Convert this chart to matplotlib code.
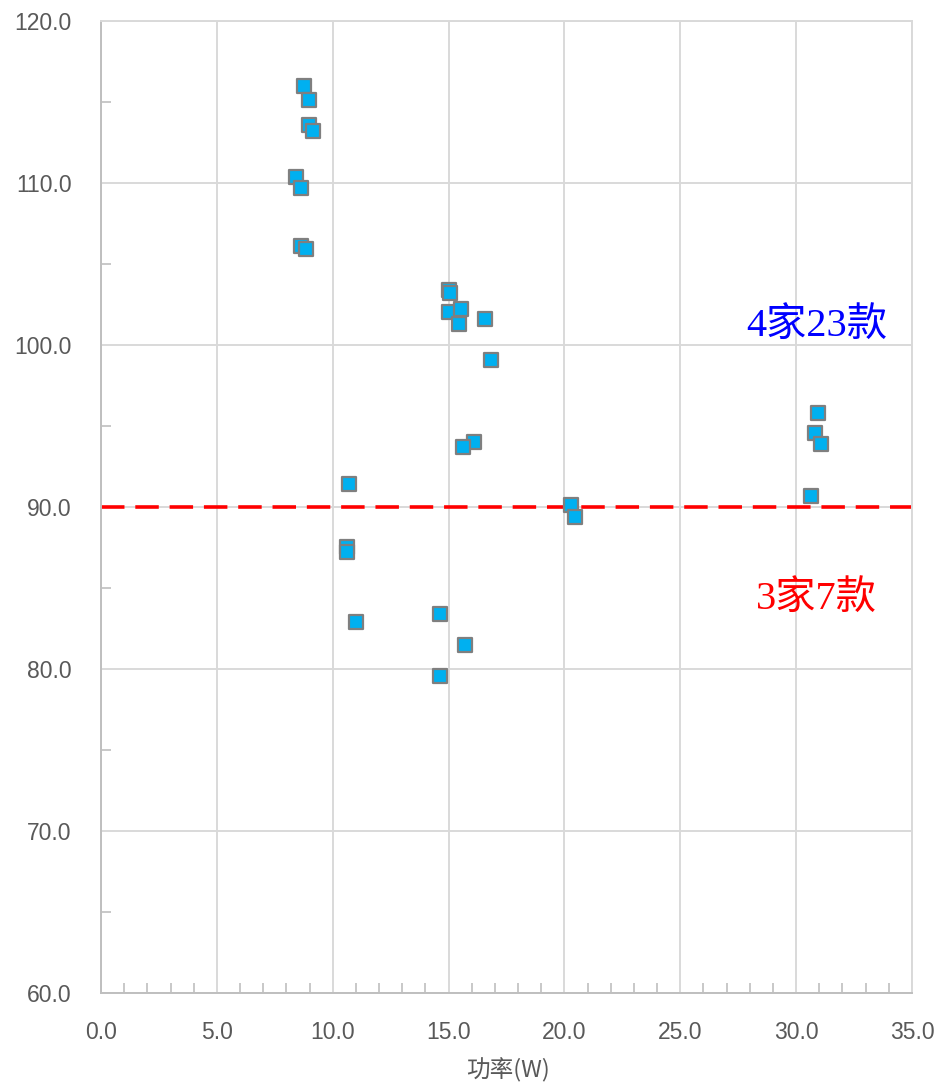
import matplotlib
matplotlib.use("Agg")
import matplotlib.pyplot as plt
from matplotlib.ticker import MultipleLocator, FormatStrFormatter

# power (W) vs value
power = [8.77, 8.98, 8.99, 9.16, 8.40, 8.63, 8.62, 8.83,
         15.02, 15.06, 15.01, 15.55, 15.47, 16.57, 16.83, 16.11, 15.61,
         10.72, 10.62, 10.62, 11.02, 14.62, 15.71, 14.62,
         20.28, 20.44, 30.95, 30.83, 31.07, 30.64]
value = [116.0, 115.1, 113.6, 113.2, 110.4, 109.7, 106.1, 105.9,
         103.4, 103.2, 102.05, 102.24, 101.3, 101.6, 99.1, 94.03, 93.72,
         91.42, 87.55, 87.2, 82.9, 83.4, 81.5, 79.6,
         90.12, 89.4, 95.78, 94.55, 93.9, 90.7]
limit = 90.0
label_above = "4家23款"
label_below = "3家7款"
xlabel = "功率(W)"

tick_font = ["Liberation Sans", "DejaVu Sans"]
cjk_font = ["Noto Sans CJK SC", "DejaVu Sans"]
serif_font = ["Liberation Serif", "Noto Sans CJK SC"]

fig = plt.figure(figsize=(9.37, 10.84), dpi=100)
ax = fig.add_axes([0.1078, 0.0839, 0.8655, 0.8967])

ax.scatter(power, value, marker="s", s=105, facecolor="#00b0f0",
           edgecolor="#7f7f7f", linewidths=1.6, zorder=3)
ax.axhline(limit, color="#ff0000", lw=2.6, ls=(0, (6.5, 3)), zorder=2)

ax.set_xlim(0, 35)
ax.set_ylim(60, 120)
ax.xaxis.set_major_locator(MultipleLocator(5))
ax.xaxis.set_minor_locator(MultipleLocator(1))
ax.yaxis.set_major_locator(MultipleLocator(10))
ax.yaxis.set_minor_locator(MultipleLocator(5))
ax.xaxis.set_major_formatter(FormatStrFormatter("%.1f"))
ax.yaxis.set_major_formatter(FormatStrFormatter("%.1f"))
ax.grid(True, which="major", color="#d9d9d9", lw=1.4, zorder=0)
ax.tick_params(which="major", length=0, labelsize=16.5, labelcolor="#595959")
ax.tick_params(axis="y", which="major", pad=21)
ax.tick_params(axis="x", which="major", pad=20)
ax.tick_params(which="minor", direction="in", length=7, color="#bfbfbf", width=1.2)
ax.tick_params(axis="y", which="minor", left=True)
for lab in ax.get_xticklabels() + ax.get_yticklabels():
    lab.set_family(tick_font)
for side in ["top", "right"]:
    ax.spines[side].set_color("#d9d9d9")
    ax.spines[side].set_linewidth(1.4)
for side in ["left", "bottom"]:
    ax.spines[side].set_color("#bfbfbf")
    ax.spines[side].set_linewidth(1.4)

ax.set_xlabel(xlabel, family=cjk_font, fontsize=17, color="#595959", va="center")
ax.xaxis.set_label_coords(0.502, -0.079)

ax.text(33.93, 101.1, label_above, color="#0000ff", fontsize=29,
        family=serif_font, ha="right", va="center")
ax.text(33.5, 84.25, label_below, color="#ff0000", fontsize=29,
        family=serif_font, ha="right", va="center")

fig.savefig("out.png", dpi=100)
